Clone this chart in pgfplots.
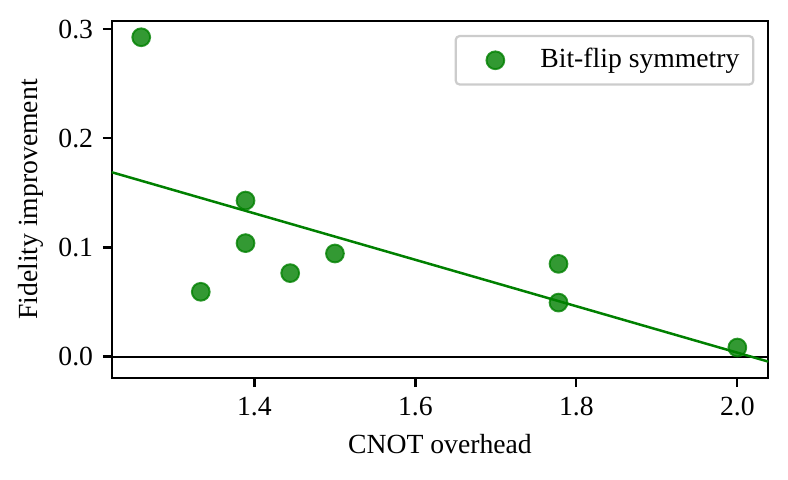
\documentclass[border=0pt]{standalone}
\usepackage{fontspec}
\setmainfont{Liberation Serif}
\usepackage{pgfplots}
\pgfplotsset{compat=1.18}
\definecolor{mplgreen}{RGB}{0,128,0}
\begin{document}
\fontsize{10pt}{12pt}\selectfont
\begin{tikzpicture}
\begin{axis}[
  scale only axis,
  width=236.4bp, height=128.6bp,
  xmin=1.2226, xmax=2.0385,
  ymin=-0.0198, ymax=0.3076,
  xtick={1.4,1.6,1.8,2.0},
  ytick={0,0.1,0.2,0.3},
  tick align=outside,
  tick pos=left,
  major tick length=3.2bp,
  every tick/.style={black, line width=0.8bp},
  axis line style={line width=0.8bp},
  /pgf/number format/assume math mode=true,
  xticklabel style={/pgf/number format/.cd, fixed, fixed zerofill, precision=1},
  yticklabel style={/pgf/number format/.cd, fixed, fixed zerofill, precision=1},
  tick label style={font=\fontsize{10pt}{12pt}\selectfont},
  label style={font=\fontsize{10pt}{12pt}\selectfont},
  xlabel={CNOT overhead},
  ylabel={Fidelity improvement},
  ylabel style={xshift=0bp, yshift=-1.5bp},
  legend cell align=left,
  legend image code/.code={\path[draw=none,fill=none] (0bp,0bp) -- (25.5bp,0bp);\draw[mark repeat=2,mark phase=2,#1] plot coordinates {(0bp,0bp) (12.3bp,0bp) (24.6bp,0bp)};},
  legend style={at={(rel axis cs:1,1)}, anchor=north east, xshift=-5bp, yshift=-5bp,
    draw=black!20, line width=0.8bp, rounded corners=1.5bp, fill=white, fill opacity=0.8, text opacity=1,
    inner xsep=2bp, inner ysep=2.5bp,
    font=\fontsize{10pt}{12pt}\selectfont,
    nodes={inner xsep=3bp}},
]
\coordinate (bl) at (rel axis cs:0,0);
\coordinate (tr) at (rel axis cs:1,1);
\addplot[black, line width=0.7bp, forget plot] coordinates {(1.2226,0) (2.0385,0)};
\addplot[mplgreen, line width=0.9bp, forget plot] coordinates {(1.2226,0.169) (2.0385,-0.0046)};
\addplot[only marks, mark=*, mark size=3.2bp,
  mark options={fill=mplgreen, draw=mplgreen, fill opacity=0.8, draw opacity=0.8, line width=0.7bp}]
  coordinates {
  (1.2593,0.2927)
  (1.3333,0.0594)
  (1.3889,0.1430)
  (1.3889,0.1040)
  (1.4444,0.0765)
  (1.5000,0.0945)
  (1.7778,0.0850)
  (1.7778,0.0495)
  (2.0000,0.0083)
  };
\addlegendentry{Bit-flip symmetry}
\end{axis}
\pgfresetboundingbox
\path ([shift={(-40.21bp,-36.61bp)}]bl) rectangle ([shift={(7.09bp,7.56bp)}]tr);
\end{tikzpicture}
\end{document}
